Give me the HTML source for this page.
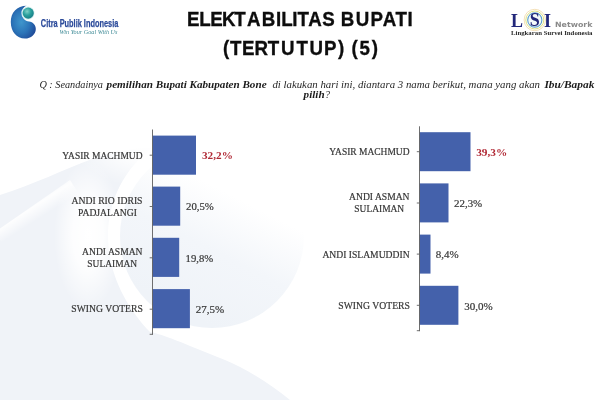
<!DOCTYPE html>
<html><head><meta charset="utf-8"><title>Elektabilitas Bupati</title>
<style>
html,body{margin:0;padding:0;background:#fff;}
svg{display:block;}
.t{font-family:"Liberation Sans",sans-serif;font-weight:bold;fill:#0d0d0d;stroke:#0d0d0d;stroke-width:0.35px;}
.q{font-family:"Liberation Serif",serif;font-style:italic;fill:#262626;font-size:10px;}
.qb{font-weight:bold;fill:#1a1a1a;}
.c{font-family:"Liberation Serif",serif;fill:#363636;font-size:10.2px;stroke:#363636;stroke-width:0.2px;}
.v{font-family:"Liberation Serif",serif;fill:#363636;font-size:10.8px;stroke:#363636;stroke-width:0.2px;}
.vb{font-family:"Liberation Serif",serif;fill:#b12a36;font-size:10.8px;font-weight:bold;}
</style></head><body>
<svg width="600" height="400" viewBox="0 0 600 400">
<defs>
<radialGradient id="gb" cx="0.42" cy="0.5" r="0.62">
<stop offset="0" stop-color="#3f96cc"/><stop offset="0.55" stop-color="#2b74b8"/><stop offset="1" stop-color="#1f4a98"/>
</radialGradient>
<radialGradient id="gs" cx="0.4" cy="0.35" r="0.7">
<stop offset="0" stop-color="#7fd0c8"/><stop offset="0.5" stop-color="#2aa09c"/><stop offset="1" stop-color="#167a86"/>
</radialGradient>
</defs>
<rect width="600" height="400" fill="#ffffff"/>
<defs>
<linearGradient id="sph" gradientUnits="userSpaceOnUse" x1="262" y1="150" x2="180" y2="310">
<stop offset="0" stop-color="#ffffff"/><stop offset="0.3" stop-color="#ffffff"/><stop offset="0.62" stop-color="#f3f6fa"/><stop offset="1" stop-color="#eff3f8"/>
</linearGradient>
<radialGradient id="hl" cx="0.5" cy="0.5" r="0.5">
<stop offset="0" stop-color="#ffffff" stop-opacity="1"/><stop offset="0.45" stop-color="#ffffff" stop-opacity="0.85"/><stop offset="1" stop-color="#ffffff" stop-opacity="0"/>
</radialGradient>
<linearGradient id="band" gradientUnits="userSpaceOnUse" x1="20" y1="200" x2="34" y2="222">
<stop offset="0" stop-color="#ffffff" stop-opacity="0"/><stop offset="0.5" stop-color="#ffffff" stop-opacity="0.9"/><stop offset="1" stop-color="#ffffff" stop-opacity="0"/>
</linearGradient>
</defs>
<g id="watermark">
<path d="M0 195 C35 184 62 170 95 158 C115 151 135 148 152 148 C125 168 108 200 108 236 C108 272 125 306 150 332 C165 335 180 342 225 360 C245 368 270 384 290 400 L0 400 Z" fill="#f0f3f8"/>
<path d="M-5 232 L70 180 L84 202 L9 254 Z" fill="url(#band)"/>
<ellipse cx="88" cy="235" rx="34" ry="75" fill="url(#hl)"/>
<ellipse cx="150" cy="140" rx="80" ry="48" fill="url(#hl)"/>
<circle cx="212" cy="236" r="92" fill="url(#sph)"/>
</g>

<!-- left logo -->
<g id="logoL">
<path d="M27 5.8 C16.5 5.8 10.8 13 10.8 22 C10.8 31.5 16.5 38.6 25 38.6 C31 38.6 35.8 34.2 35.8 29 C35.8 25 33 22 29 21.5 C25 21 22 18 22 13.5 C22 9 24 6.5 27 5.8 Z" fill="url(#gb)"/>
<circle cx="27.9" cy="13.1" r="6.6" fill="#d8f0f0"/>
<circle cx="28.2" cy="13.1" r="5.6" fill="url(#gs)"/>
<text x="40.8" y="26.6" font-family="Liberation Sans, sans-serif" font-weight="bold" font-size="11.2" fill="#2b4a9a" stroke="#2b4a9a" stroke-width="0.25" textLength="77.5" lengthAdjust="spacingAndGlyphs">Citra Publik Indonesia</text>
<text x="59.5" y="34.1" font-family="Liberation Serif, serif" font-style="italic" font-size="5.6" fill="#3d8a96" textLength="58" lengthAdjust="spacingAndGlyphs">Win Your Goal With Us</text>
</g>
<!-- right logo -->
<g id="logoR">
<circle cx="534.8" cy="20" r="10.7" fill="none" stroke="#f3ddb0" stroke-width="0.9"/>
<circle cx="534.8" cy="20" r="9" fill="none" stroke="#dfe384" stroke-width="1"/>
<circle cx="534.8" cy="20" r="7.1" fill="#f3fafb" stroke="#5f9fcb" stroke-width="1.1"/>
<text font-family="Liberation Serif, serif" font-weight="bold" font-size="18" fill="#22277a"><tspan x="511" y="26.5">L</tspan><tspan x="529.8" y="26">S</tspan><tspan x="544" y="26.5">I</tspan></text>
<text x="555" y="27" font-family="DejaVu Sans, Liberation Sans, sans-serif" font-weight="bold" font-size="7.2" fill="#8a8a8a" textLength="37.5" lengthAdjust="spacingAndGlyphs">Network</text>
<text x="511" y="34.7" font-family="Liberation Serif, serif" font-weight="bold" font-size="7" fill="#2a2a2a" textLength="81.5" lengthAdjust="spacingAndGlyphs">Lingkaran Survei Indonesia</text>
</g>
<!-- title -->
<text class="t" transform="scale(0.9,1)" font-size="20.8" y="26.2" x="207.88 221.33 233.61 246.72 260.31 274.45 290.88 306.55 312.6 324.83 330.59 342.5 358.17 373.33 378.65 395.28 411.72 425.28 439.48 452.89">ELEKTABILITAS BUPATI</text>
<text class="t" transform="scale(0.9,1)" font-size="20.8" y="55.2" x="247.7 255.59 268.88 282.84 297.53 312.22 329.48 343.89 360.11 375.66 384.44 390.47 399.46 413.16">(TERTUTUP) (5)</text>
<!-- question -->
<text class="q" x="39.4" y="87.6" textLength="63.6" lengthAdjust="spacingAndGlyphs">Q : Seandainya</text>
<text class="q qb" x="106.6" y="87.6" textLength="160" lengthAdjust="spacingAndGlyphs">pemilihan Bupati Kabupaten Bone</text>
<text class="q" x="272.4" y="87.6" textLength="267.6" lengthAdjust="spacingAndGlyphs">di lakukan hari ini, diantara 3 nama berikut, mana yang akan</text>
<text class="q qb" x="544.4" y="87.6" textLength="50" lengthAdjust="spacingAndGlyphs">Ibu/Bapak</text>
<text class="q qb" x="303.6" y="98" textLength="21" lengthAdjust="spacingAndGlyphs">pilih</text>
<text class="q" x="325" y="98">?</text>
<!-- left chart -->
<g id="chartL">
<rect x="152.5" y="135.6" width="43.5" height="39.1" fill="#4461ab"/>
<rect x="152.5" y="186.6" width="27.7" height="39.1" fill="#4461ab"/>
<rect x="152.5" y="237.8" width="26.7" height="39.1" fill="#4461ab"/>
<rect x="152.5" y="289.1" width="37.4" height="39.1" fill="#4461ab"/>
<path d="M152.5 129.5V334.8 M149.7 155.2h2.8 M149.7 206.5h2.8 M149.7 257.8h2.8 M149.7 309.2h2.8 M149.7 334.3h2.8" stroke="#5f5f5f" stroke-width="0.9" fill="none"/>
<text class="c" x="62.3" y="158.6" textLength="80.2" lengthAdjust="spacingAndGlyphs">YASIR MACHMUD</text>
<text class="c" x="71.6" y="203.8" textLength="70.9" lengthAdjust="spacingAndGlyphs">ANDI RIO IDRIS</text>
<text class="c" x="78.0" y="215.8" textLength="58.9" lengthAdjust="spacingAndGlyphs">PADJALANGI</text>
<text class="c" x="82.1" y="254.8" textLength="60.4" lengthAdjust="spacingAndGlyphs">ANDI ASMAN</text>
<text class="c" x="87.3" y="267" textLength="49.9" lengthAdjust="spacingAndGlyphs">SULAIMAN</text>
<text class="c" x="71.3" y="311.9" textLength="71.5" lengthAdjust="spacingAndGlyphs">SWING VOTERS</text>
<text class="vb" x="202" y="159" textLength="30.9" lengthAdjust="spacingAndGlyphs">32,2%</text>
<text class="v" x="186" y="210.4" textLength="27.8" lengthAdjust="spacingAndGlyphs">20,5%</text>
<text class="v" x="185.6" y="262" textLength="27.6" lengthAdjust="spacingAndGlyphs">19,8%</text>
<text class="v" x="195.8" y="312.8" textLength="28.4" lengthAdjust="spacingAndGlyphs">27,5%</text>
</g>
<!-- right chart -->
<g id="chartR">
<rect x="419.5" y="132.2" width="51" height="39" fill="#4461ab"/>
<rect x="419.5" y="183.4" width="29" height="39" fill="#4461ab"/>
<rect x="419.5" y="234.6" width="11" height="39" fill="#4461ab"/>
<rect x="419.5" y="285.8" width="38.9" height="39" fill="#4461ab"/>
<path d="M419.5 126.3V331.2 M416.8 151.7h2.7 M416.8 203h2.7 M416.8 254.1h2.7 M416.8 305.3h2.7 M416.8 330.7h2.7" stroke="#5f5f5f" stroke-width="0.9" fill="none"/>
<text class="c" x="329.3" y="155.1" textLength="80.2" lengthAdjust="spacingAndGlyphs">YASIR MACHMUD</text>
<text class="c" x="349.1" y="200.1" textLength="60.4" lengthAdjust="spacingAndGlyphs">ANDI ASMAN</text>
<text class="c" x="354.3" y="212.4" textLength="49.9" lengthAdjust="spacingAndGlyphs">SULAIMAN</text>
<text class="c" x="322.4" y="258" textLength="87.2" lengthAdjust="spacingAndGlyphs">ANDI ISLAMUDDIN</text>
<text class="c" x="338.3" y="308.8" textLength="71.6" lengthAdjust="spacingAndGlyphs">SWING VOTERS</text>
<text class="vb" x="476.2" y="155.5" textLength="31.0" lengthAdjust="spacingAndGlyphs">39,3%</text>
<text class="v" x="454" y="207" textLength="28.2" lengthAdjust="spacingAndGlyphs">22,3%</text>
<text class="v" x="435.8" y="258.3" textLength="22.9" lengthAdjust="spacingAndGlyphs">8,4%</text>
<text class="v" x="464.2" y="309.7" textLength="28.5" lengthAdjust="spacingAndGlyphs">30,0%</text>
</g>
</svg>
</body></html>
